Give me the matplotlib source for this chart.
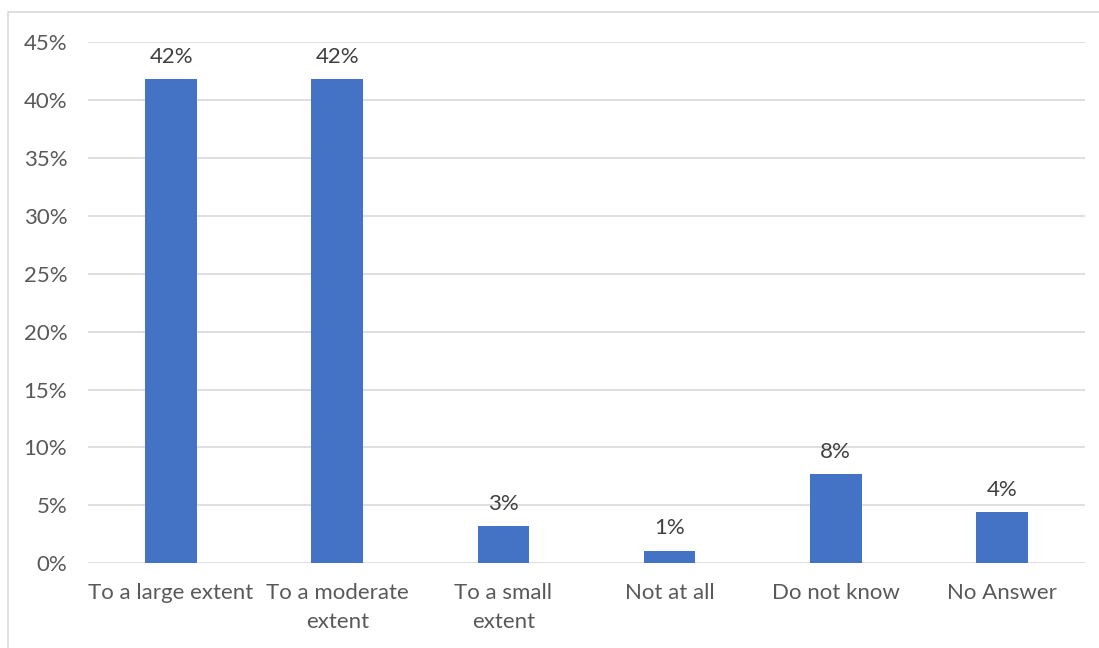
import numpy as np
import matplotlib.pyplot as plt
from matplotlib.patches import Rectangle
from matplotlib.ticker import PercentFormatter

categories = ["To a large extent", "To a moderate\nextent", "To a small\nextent",
              "Not at all", "Do not know", "No Answer"]
values = [0.418, 0.418, 0.032, 0.011, 0.077, 0.044]
labels = ["42%", "42%", "3%", "1%", "8%", "4%"]

plt.rcParams['font.family'] = ['Lato', 'DejaVu Sans']
text_color = "#595959"

fig = plt.figure(figsize=(10.99, 6.48), dpi=100)
# chart-area frame (right/bottom edges run off the picture)
fig.patches.append(Rectangle((8 / 1099, -0.01), 1.1, 1 - 12 / 648 + 0.01,
                             transform=fig.transFigure, fill=False,
                             edgecolor="#d9d9d9", linewidth=1.2))
ax = fig.add_axes([88 / 1099, 1 - 563.3 / 648, 997 / 1099, (563.3 - 42) / 648])

x = np.arange(len(categories))
ax.bar(x, values, width=0.31, color="#4472c4", zorder=3)
for xi, v, lab in zip(x, values, labels):
    ax.annotate(lab, (xi, v), xytext=(0, 9), textcoords="offset points",
                ha="center", va="bottom", fontsize=16, color="#404040")

ax.set_xlim(-0.5, len(categories) - 0.5)
ax.set_ylim(0, 0.45)
ax.set_yticks(np.arange(0, 0.451, 0.05))
ax.yaxis.set_major_formatter(PercentFormatter(1.0, decimals=0))
ax.set_xticks(x)
ax.set_xticklabels(categories, linespacing=1.6)
ax.grid(axis="y", color="#d9d9d9", linewidth=1.2, zorder=0)
for s in ax.spines.values():
    s.set_visible(False)
ax.tick_params(length=0, labelsize=16, labelcolor=text_color)
ax.tick_params(axis="y", pad=15)
ax.tick_params(axis="x", pad=14)

fig.savefig("out.png", dpi=100)
